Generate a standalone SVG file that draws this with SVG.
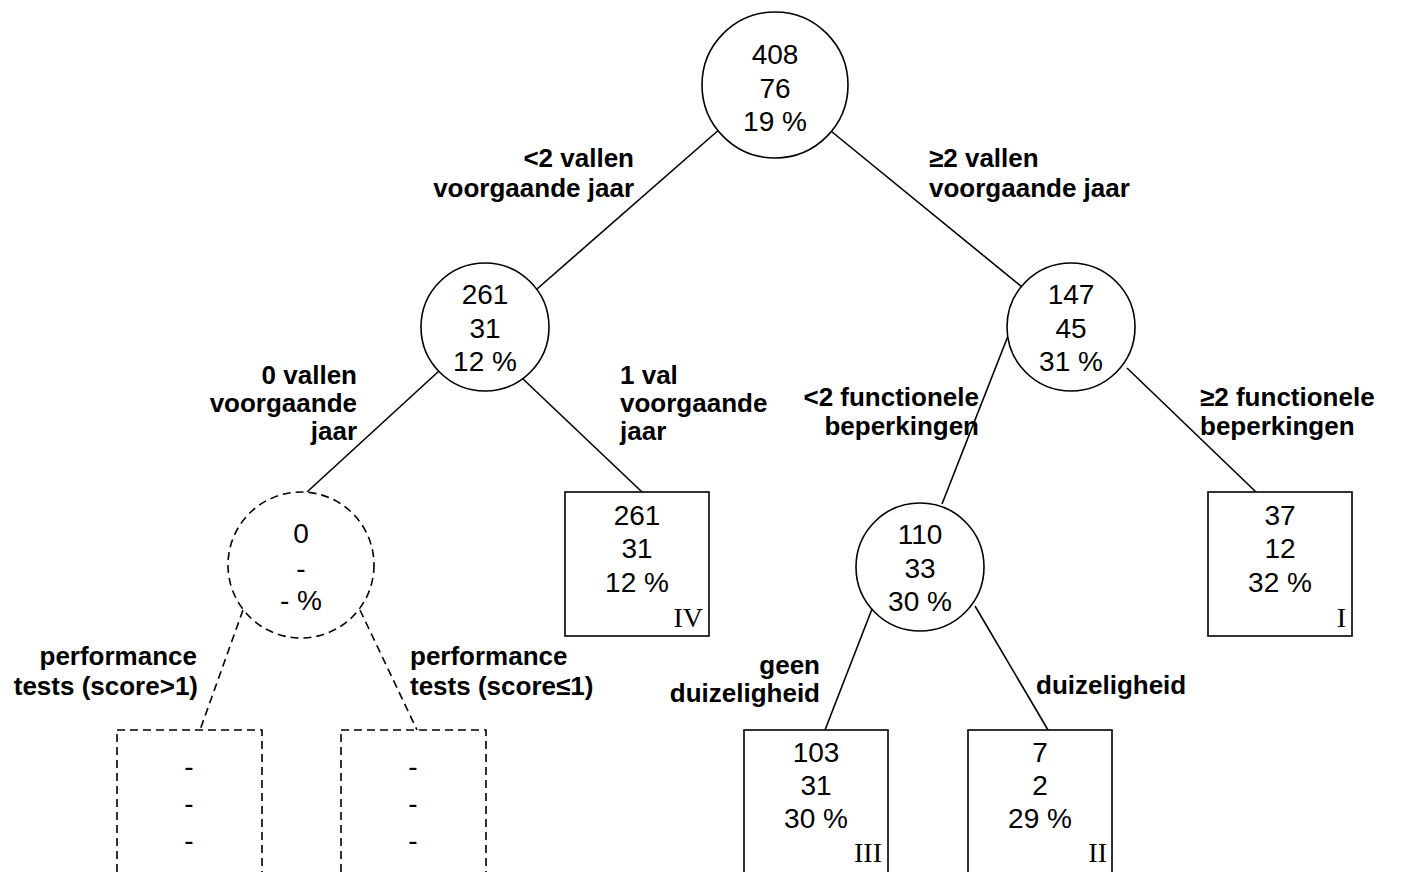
<svg xmlns="http://www.w3.org/2000/svg" width="1410" height="872" viewBox="0 0 1410 872">
<style>
.n{fill:#fff;stroke:#000;stroke-width:1.6}
.d{fill:#fff;stroke:#000;stroke-width:1.6;stroke-dasharray:8 5}
.c{stroke:#000;stroke-width:1.6;fill:none}
.cd{stroke:#000;stroke-width:1.6;fill:none;stroke-dasharray:8 5}
.t{font-family:"Liberation Sans",Arial,sans-serif;font-size:28px;text-anchor:middle;fill:#000}
.r{font-family:"Liberation Serif","Times New Roman",serif;font-size:28px;text-anchor:end;fill:#000}
.l{font-family:"Liberation Sans",Arial,sans-serif;font-size:26px;font-weight:bold;fill:#000}
.e{text-anchor:end}
</style>
<rect width="1410" height="872" fill="#fff"/>
<g id="connectors">
<line class="c" x1="721" y1="128" x2="537" y2="289"/>
<line class="c" x1="826" y1="127" x2="1022" y2="287"/>
<line class="c" x1="439" y1="371" x2="307" y2="492"/>
<line class="c" x1="523" y1="379" x2="642" y2="492"/>
<line class="c" x1="1008" y1="336" x2="942" y2="504"/>
<line class="c" x1="1127" y1="368" x2="1256" y2="492"/>
<line class="c" x1="872" y1="609" x2="825" y2="730"/>
<line class="c" x1="975" y1="606" x2="1048" y2="730"/>
<line class="cd" x1="243" y1="610" x2="200" y2="730"/>
<line class="cd" x1="360" y1="610" x2="417" y2="730"/>
</g>
<g id="labels">
<text class="l e" x="634" y="167">&lt;2 vallen</text>
<text class="l e" x="634" y="197">voorgaande jaar</text>
<text class="l" x="929" y="167">≥2 vallen</text>
<text class="l" x="929" y="197">voorgaande jaar</text>
<text class="l e" x="357" y="384">0 vallen</text>
<text class="l e" x="357" y="412">voorgaande</text>
<text class="l e" x="357" y="440">jaar</text>
<text class="l" x="620" y="384">1 val</text>
<text class="l" x="620" y="412">voorgaande</text>
<text class="l" x="620" y="440">jaar</text>
<text class="l e" x="979" y="406">&lt;2 functionele</text>
<text class="l e" x="979" y="435">beperkingen</text>
<text class="l" x="1200" y="406">≥2 functionele</text>
<text class="l" x="1200" y="435">beperkingen</text>
<text class="l e" x="820" y="674">geen</text>
<text class="l e" x="820" y="702">duizeligheid</text>
<text class="l" x="1036" y="694">duizeligheid</text>
<text class="l e" x="197" y="665">performance</text>
<text class="l e" x="198" y="695">tests (score&gt;1)</text>
<text class="l" x="410" y="665">performance</text>
<text class="l" x="410" y="695">tests (score≤1)</text>
</g>
<g id="root">
<circle class="n" cx="775" cy="85" r="73"/>
<text class="t" x="775" y="64">408</text>
<text class="t" x="775" y="98">76</text>
<text class="t" x="775" y="131">19 %</text>
</g>
<g id="n261">
<circle class="n" cx="485" cy="327" r="64"/>
<text class="t" x="485" y="304">261</text>
<text class="t" x="485" y="338">31</text>
<text class="t" x="485" y="371">12 %</text>
</g>
<g id="n147">
<circle class="n" cx="1071" cy="327" r="64"/>
<text class="t" x="1071" y="304">147</text>
<text class="t" x="1071" y="338">45</text>
<text class="t" x="1071" y="371">31 %</text>
</g>
<g id="n0">
<circle class="d" cx="301" cy="565" r="73"/>
<text class="t" x="301" y="543">0</text>
<text class="t" x="301" y="578">-</text>
<text class="t" x="301" y="610">- %</text>
</g>
<g id="leafIV">
<rect class="n" x="565" y="492" width="144" height="144"/>
<text class="t" x="637" y="525">261</text>
<text class="t" x="637" y="558">31</text>
<text class="t" x="637" y="592">12 %</text>
<text class="r" x="703" y="627">IV</text>
</g>
<g id="n110">
<circle class="n" cx="920" cy="567" r="64"/>
<text class="t" x="920" y="544">110</text>
<text class="t" x="920" y="578">33</text>
<text class="t" x="920" y="611">30 %</text>
</g>
<g id="leafI">
<rect class="n" x="1208" y="492" width="144" height="144"/>
<text class="t" x="1280" y="525">37</text>
<text class="t" x="1280" y="558">12</text>
<text class="t" x="1280" y="592">32 %</text>
<text class="r" x="1346" y="627">I</text>
</g>
<g id="leafIII">
<rect class="n" x="744" y="730" width="144" height="160"/>
<text class="t" x="816" y="762">103</text>
<text class="t" x="816" y="795">31</text>
<text class="t" x="816" y="828">30 %</text>
<text class="r" x="882" y="862">III</text>
</g>
<g id="leafII">
<rect class="n" x="968" y="730" width="144" height="160"/>
<text class="t" x="1040" y="762">7</text>
<text class="t" x="1040" y="795">2</text>
<text class="t" x="1040" y="828">29 %</text>
<text class="r" x="1107" y="862">II</text>
</g>
<g id="dash1">
<rect class="d" x="117" y="730" width="145" height="160"/>
<text class="t" x="189" y="776">-</text>
<text class="t" x="189" y="813">-</text>
<text class="t" x="189" y="850">-</text>
</g>
<g id="dash2">
<rect class="d" x="341" y="730" width="145" height="160"/>
<text class="t" x="413" y="776">-</text>
<text class="t" x="413" y="813">-</text>
<text class="t" x="413" y="850">-</text>
</g>
</svg>
